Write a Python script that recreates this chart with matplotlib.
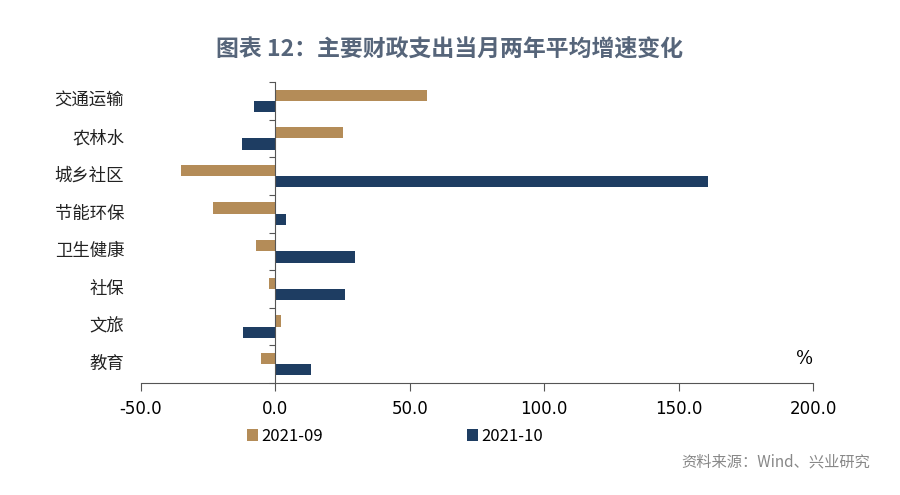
#!/usr/bin/env python3

import matplotlib
matplotlib.use("Agg")
import matplotlib.pyplot as plt
import numpy as np

plt.rcParams['font.family'] = ['Noto Sans CJK SC', 'DejaVu Sans']

categories = ["交通运输", "农林水", "城乡社区", "节能环保", "卫生健康", "社保", "文旅", "教育"]
sep_2021 = [56.5, 25.0, -35.3, -23.4, -7.4, -2.2, 1.9, -5.2]
oct_2021 = [-7.8, -12.6, 161.0, 4.1, 29.7, 26.0, -11.9, 13.4]
xticks = [-50, 0, 50, 100, 150, 200]

GOLD = "#B48C58"
NAVY = "#1E3D62"


def main():
    fig = plt.figure(figsize=(9, 4.95), dpi=100)
    ax = fig.add_axes([141 / 900, 1 - 383 / 495, (813 - 141) / 900, (383 - 82) / 495])

    y = np.arange(len(categories))
    h = 0.3
    ax.barh(y - h / 2, sep_2021, height=h, color=GOLD, label="2021-09")
    ax.barh(y + h / 2, oct_2021, height=h, color=NAVY, label="2021-10")

    ax.set_xlim(-50, 200)
    ax.set_ylim(len(categories) - 0.5, -0.5)
    ax.set_xticks(xticks)
    ax.set_xticklabels(["%.1f" % v for v in xticks], fontsize=12, family="DejaVu Sans")
    ax.tick_params(axis='x', direction='out', length=6, color="#555555", pad=6)

    # category axis drawn at x = 0, ticks on the boundaries
    ax.spines['left'].set_position(('data', 0))
    ax.spines['left'].set_color("#555555")
    ax.spines['bottom'].set_color("#555555")
    ax.spines['top'].set_visible(False)
    ax.spines['right'].set_visible(False)
    ax.set_yticks(np.arange(len(categories) + 1) - 0.5)
    ax.set_yticklabels([])
    ax.tick_params(axis='y', direction='out', length=4, color="#555555")

    for i, name in enumerate(categories):
        ax.text(-0.025, i, name, transform=ax.get_yaxis_transform(),
                ha='right', va='center', fontsize=12.5, color="#222222")

    ax.text(200, 6.85, "%", ha='right', va='center', fontsize=13, family="DejaVu Serif")

    fig.text(0.5, 1 - 50 / 495, "图表 12：主要财政支出当月两年平均增速变化",
             ha='center', va='center', fontsize=16.5, fontweight='bold', color="#56657A")

    ax.legend(loc='upper center', bbox_to_anchor=(0.378, -0.1), ncol=2, frameon=False,
              fontsize=12, handlelength=0.7, handleheight=0.7, handletextpad=0.2,
              columnspacing=8.6)

    fig.text(870 / 900, 1 - 462 / 495, "资料来源：Wind、兴业研究", ha='right', va='center',
             fontsize=11, color="#888888")

    fig.savefig("out.png", dpi=100)


if __name__ == "__main__":
    main()
